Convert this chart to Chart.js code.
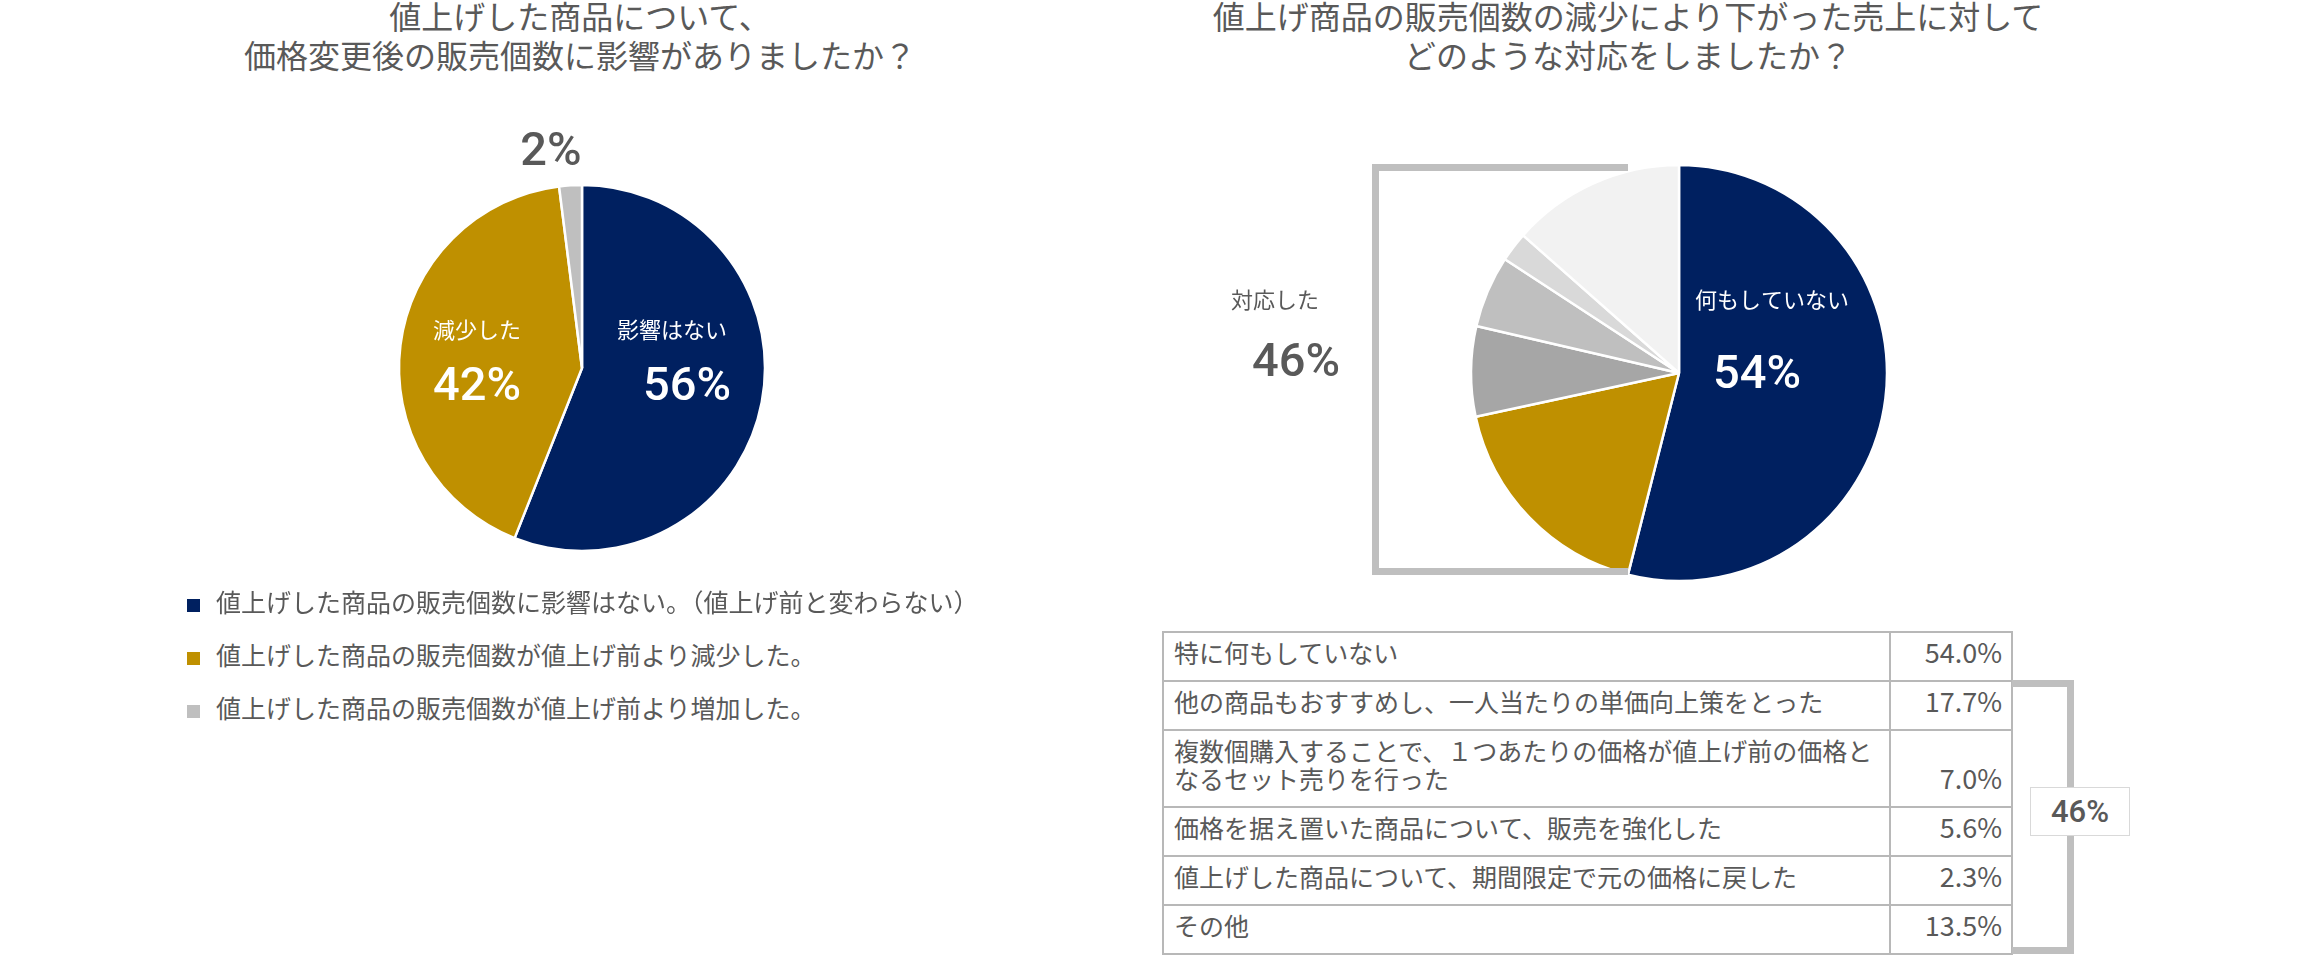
<!DOCTYPE html>
<html><head><meta charset="utf-8">
<script src="https://cdn.jsdelivr.net/npm/chart.js@4.4.1/dist/chart.umd.min.js"></script>
<style>
html,body{margin:0;padding:0;background:#fff;width:2314px;height:957px;overflow:hidden;position:relative;font-family:'Noto Sans CJK JP','Noto Sans',sans-serif;color:#595959}
.title{position:absolute;top:-4px;font-size:32px;line-height:39px;text-align:center;white-space:nowrap;transform:translateX(-50%);color:#595959}
canvas{position:absolute}
.legrow{position:absolute;left:187px;height:30px;font-size:25px;line-height:30px;white-space:nowrap;padding-left:29px}
.legrow .sw{position:absolute;left:0;top:13px;width:13px;height:13px}
.bracketL{position:absolute;left:1372px;top:164px;width:256px;height:411px;box-sizing:border-box;border:7px solid #bfbfbf;border-right:none;z-index:3}
table{position:absolute;left:1162px;top:631px;border-collapse:collapse;font-size:25px;line-height:28px;color:#595959}
td{border:2px solid #b8b8b8;padding:5px 8px 14px 10px}
td.lab{width:707px;vertical-align:top}
td.val{width:101px;text-align:right;vertical-align:bottom;font-size:27px;padding-right:9px}
.bracketR{position:absolute;left:2012px;top:680px;width:62px;height:274px;box-sizing:border-box;border:7px solid #bfbfbf;border-left:none}
.box{position:absolute;left:2030px;top:787px;width:100px;height:49px;box-sizing:border-box;border:1px solid #d9d9d9;background:#fff;font-family:Roboto,'Liberation Sans',Arial,sans-serif;font-weight:500;font-size:31px;line-height:47px;text-align:center;color:#595959}
</style></head>
<body>
<div class="title" style="left:580px">値上げした商品について、<br>価格変更後の販売個数に影響がありましたか？</div>
<div class="title" style="left:1628px">値上げ商品の販売個数の減少により下がった売上に対して<br>どのような対応をしましたか？</div>
<canvas id="c1" width="600" height="500" style="left:282px;top:118px"></canvas>
<canvas id="c2" width="1000" height="500" style="left:1179px;top:123px"></canvas>
<div class="bracketL"></div>
<div id="legend"></div>
<table id="tbl"></table>
<div class="bracketR"></div>
<div class="box" id="box"></div>
<script>
// ---- data ----
const leftCategories = [
  '値上げした商品の販売個数に影響はない。（値上げ前と変わらない）',
  '値上げした商品の販売個数が値上げ前より減少した。',
  '値上げした商品の販売個数が値上げ前より増加した。'
];
const leftValues = [56, 42, 2];
const leftShortNames = ['影響はない', '減少した', ''];
const leftColors = ['#002060', '#BF9000', '#BFBFBF'];

const rightCategories = [
  '特に何もしていない',
  '他の商品もおすすめし、一人当たりの単価向上策をとった',
  '複数個購入することで、１つあたりの価格が値上げ前の価格となるセット売りを行った',
  '価格を据え置いた商品について、販売を強化した',
  '値上げした商品について、期間限定で元の価格に戻した',
  'その他'
];
const rightValues = [54.0, 17.7, 7.0, 5.6, 2.3, 13.5];
const rightColors = ['#002060', '#BF9000', '#A6A6A6', '#BFBFBF', '#D9D9D9', '#F2F2F2'];
const rightShortName = '何もしていない';
const respondedName = '対応した';

// ---- derived ----
const respondedTotal = Math.round(rightValues.slice(1).reduce((a, b) => a + b, 0));
const pct = v => Math.round(v) + '%';

const NUM_FONT = "500 47px Roboto, 'Liberation Sans', Arial, sans-serif";
const JP_FONT = "22px 'Noto Sans CJK JP', sans-serif";

const sliceLabelPlugin = {
  id: 'sliceLabels',
  afterDatasetsDraw(chart, args, opts) {
    const arc = chart.getDatasetMeta(0).data[0];
    if (!arc) return;
    const cx = arc.x, cy = arc.y;
    const ctx = chart.ctx;
    ctx.save();
    ctx.textAlign = 'center';
    ctx.textBaseline = 'middle';
    (opts.items || []).forEach(it => {
      ctx.font = it.font;
      ctx.fillStyle = it.color;
      ctx.fillText(it.text, cx + it.dx, cy + it.dy);
    });
    ctx.restore();
  }
};

function pieConfig(labels, values, colors, radius, items) {
  return {
    type: 'pie',
    data: { labels: labels, datasets: [{ data: values, backgroundColor: colors, borderColor: '#ffffff', borderWidth: 2.5, radius: radius }] },
    options: {
      responsive: false, animation: false, events: [],
      layout: { padding: 0 },
      plugins: { legend: { display: false }, tooltip: { enabled: false }, sliceLabels: { items: items } }
    },
    plugins: [sliceLabelPlugin]
  };
}

new Chart(document.getElementById('c1'), pieConfig(leftCategories, leftValues, leftColors, 183, [
  { text: leftShortNames[0], dx: 90, dy: -38, font: JP_FONT, color: '#ffffff' },
  { text: pct(leftValues[0]), dx: 105, dy: 20, font: NUM_FONT, color: '#ffffff' },
  { text: leftShortNames[1], dx: -105, dy: -38, font: JP_FONT, color: '#ffffff' },
  { text: pct(leftValues[1]), dx: -105, dy: 20, font: NUM_FONT, color: '#ffffff' },
  { text: pct(leftValues[2]), dx: -31, dy: -215, font: NUM_FONT, color: '#595959' }
]));

new Chart(document.getElementById('c2'), pieConfig(rightCategories, rightValues, rightColors, 208, [
  { text: rightShortName, dx: 93, dy: -73, font: JP_FONT, color: '#ffffff' },
  { text: pct(rightValues[0]), dx: 78, dy: 3, font: NUM_FONT, color: '#ffffff' },
  { text: respondedName, dx: -404, dy: -73, font: JP_FONT, color: '#595959' },
  { text: respondedTotal + '%', dx: -383, dy: -9, font: NUM_FONT, color: '#595959' }
]));

// legend (left chart)
const legendEl = document.getElementById('legend');
const legendCenters = [602, 655, 708];
leftCategories.forEach((name, i) => {
  const row = document.createElement('div');
  row.className = 'legrow';
  row.style.top = (legendCenters[i] - 16) + 'px';
  const sw = document.createElement('span');
  sw.className = 'sw';
  sw.style.background = leftColors[i];
  row.appendChild(sw);
  row.appendChild(document.createTextNode(name));
  legendEl.appendChild(row);
});

// table (right chart)
const tbl = document.getElementById('tbl');
rightCategories.forEach((name, i) => {
  const tr = document.createElement('tr');
  const a = document.createElement('td'); a.className = 'lab'; a.textContent = name;
  const b = document.createElement('td'); b.className = 'val'; b.textContent = rightValues[i].toFixed(1) + '%';
  tr.appendChild(a); tr.appendChild(b); tbl.appendChild(tr);
});
document.getElementById('box').textContent = respondedTotal + '%';
</script>
</body></html>
